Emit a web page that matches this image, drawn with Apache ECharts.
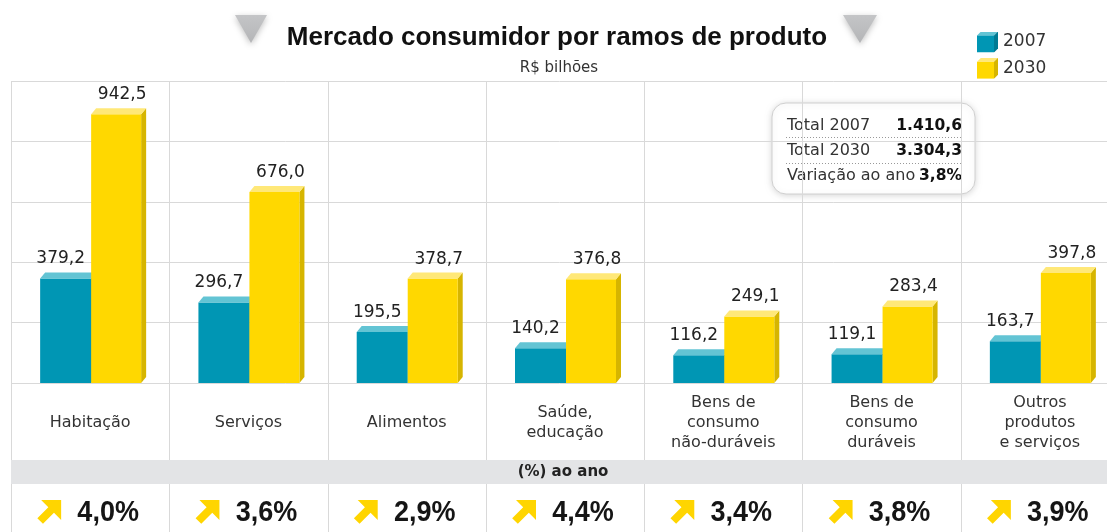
<!DOCTYPE html>
<html>
<head>
<meta charset="utf-8">
<script src="https://cdn.jsdelivr.net/npm/echarts@6/dist/echarts.min.js"></script>
<style>html,body{margin:0;padding:0;background:#fff;}#c{width:1107px;height:532px;}</style>
</head>
<body>
<div id="c"></div>
<script>
const categories = ['Habitação', 'Serviços', 'Alimentos', 'Saúde,\neducação', 'Bens de\nconsumo\nnão-duráveis', 'Bens de\nconsumo\nduráveis', 'Outros\nprodutos\ne serviços'];
const values2007 = [379.2, 296.7, 195.5, 140.2, 116.2, 119.1, 163.7];
const values2030 = [942.5, 676.0, 378.7, 376.8, 249.1, 283.4, 397.8];
const growthPct = [4.0, 3.6, 2.9, 4.4, 3.4, 3.8, 3.9];
const seriesNames = ['2007', '2030'];
const summaryLabels = ['Total 2007', 'Total 2030', 'Variação ao ano'];
const summaryValues = ['1.410,6', '3.304,3', '3,8%'];

const FONT = '"DejaVu Sans", sans-serif';
const fmt = v => v.toFixed(1).replace('.', ',');

const COLORS = {
  '2007': { front: '#0096b4', top: '#63c4d4', side: '#007a93' },
  '2030': { front: '#ffd800', top: '#ffe878', side: '#d6b500' }
};

function cubeIcon(c) {
  const svg = '<svg xmlns="http://www.w3.org/2000/svg" width="21" height="21" viewBox="0 0 21 21">' +
    '<polygon points="0,4 4,0 21,0 17,4" fill="' + c.top + '"/>' +
    '<polygon points="17,4 21,0 21,17 17,21" fill="' + c.side + '"/>' +
    '<rect x="0" y="4" width="17" height="17" fill="' + c.front + '"/></svg>';
  return 'image://data:image/svg+xml;charset=utf-8,' + encodeURIComponent(svg);
}

function barRender(offL, offR, labelShift, col) {
  return function (params, api) {
    const i = api.value(0), v = api.value(1);
    const top = api.coord([i, v]);
    const base = api.coord([i, 0]);
    const cx = base[0];
    const x0 = cx + offL, x1 = cx + offR;
    const dx = 5, dy = 6;
    const yb = base[1], yt = top[1];
    return {
      type: 'group',
      children: [
        { type: 'polygon', shape: { points: [[x1, yt + dy], [x1 + dx, yt], [x1 + dx, yb - dy], [x1, yb]] }, style: { fill: col.side } },
        { type: 'rect', shape: { x: x0, y: yt + dy, width: x1 - x0, height: yb - yt - dy }, style: { fill: col.front } },
        { type: 'polygon', shape: { points: [[x0, yt + dy], [x0 + dx, yt], [x1 + dx, yt], [x1, yt + dy]] }, style: { fill: col.top } },
        { type: 'text', style: { x: (x0 + x1) / 2 + labelShift, y: yt - 5, text: fmt(v), align: 'center', verticalAlign: 'bottom', font: '17px ' + FONT, fill: '#222' } }
      ]
    };
  };
}

const h = 2.83;
const arrowPts = [[23, 0], [3, 0], [13 - h, 10 - h], [2 - h, 21 - h], [2 + h, 21 + h], [13 + h, 10 + h], [23, 20]];

function pctRender(params, api) {
  const i = api.value(0), p = api.value(1);
  const base = api.coord([i, 0]);
  const topY = api.coord([i, 1036])[1];
  const w = api.size([1, 0])[0];
  const cx = base[0];
  const lx = Math.round(cx - w / 2) + 0.5;
  const ax = cx - 52, ay = 500;
  return {
    type: 'group',
    children: [
      { type: 'line', shape: { x1: lx, y1: topY, x2: lx, y2: 460 }, style: { stroke: '#d9d9d9', lineWidth: 1 } },
      { type: 'line', shape: { x1: lx, y1: 484, x2: lx, y2: 532 }, style: { stroke: '#d9d9d9', lineWidth: 1 } },
      { type: 'polygon', shape: { points: arrowPts.map(q => [ax + q[0], ay + q[1]]) }, style: { fill: '#ffd500' } },
      { type: 'text', x: cx + 18, y: 513, scaleY: 1.1, style: { x: 0, y: 0, text: fmt(p) + '%', align: 'center', verticalAlign: 'middle', font: 'bold 27px "Liberation Sans", Arial, sans-serif', fill: '#151515' } }
    ]
  };
}

const chart = echarts.init(document.getElementById('c'), null, { renderer: 'canvas' });

const infoChildren = [
  { type: 'rect', shape: { x: 772, y: 103, width: 203, height: 91, r: 14 }, style: { fill: '#fff', stroke: '#d0d0d0', lineWidth: 1, shadowBlur: 6, shadowColor: 'rgba(0,0,0,0.15)', shadowOffsetY: 1 } },
  { type: 'line', shape: { x1: 786, y1: 137.5, x2: 961, y2: 137.5 }, style: { stroke: '#999', lineDash: [1, 2], lineWidth: 1 } },
  { type: 'line', shape: { x1: 786, y1: 163.5, x2: 961, y2: 163.5 }, style: { stroke: '#999', lineDash: [1, 2], lineWidth: 1 } }
];
const rowY = [126, 151, 176];
summaryLabels.forEach((t, k) => {
  infoChildren.push({ type: 'text', style: { x: 787, y: rowY[k], text: t, align: 'left', verticalAlign: 'middle', font: '16px ' + FONT, fill: '#333' } });
  infoChildren.push({ type: 'text', style: { x: 962, y: rowY[k], text: summaryValues[k], align: 'right', verticalAlign: 'middle', font: 'bold 15.5px ' + FONT, fill: '#111' } });
});

const option = {
  backgroundColor: '#fff',
  animation: false,
  grid: { left: 11, top: 81, width: 1108, height: 302, containLabel: false, outerBoundsMode: 'none' },
  legend: {
    data: seriesNames.map(n => ({ name: n, icon: cubeIcon(COLORS[n]) })),
    orient: 'vertical',
    left: 972,
    top: 26.5,
    itemWidth: 21,
    itemHeight: 21,
    itemGap: 5.3,
    textStyle: { fontSize: 17, color: '#333', fontFamily: FONT },
    selectedMode: false
  },
  xAxis: {
    type: 'category',
    data: categories,
    axisLine: { show: false },
    axisTick: { show: false },
    splitLine: { show: false },
    axisLabel: { margin: 40, verticalAlign: 'middle', lineHeight: 20, fontSize: 16, color: '#333', fontFamily: FONT, interval: 0 }
  },
  yAxis: {
    type: 'value',
    min: 0,
    max: 1036,
    interval: 207.2,
    axisLabel: { show: false },
    axisLine: { show: false },
    axisTick: { show: false },
    splitLine: { lineStyle: { color: '#d9d9d9', width: 1 } }
  },
  graphic: [
    { type: 'polygon', shape: { points: [[235, 15], [267, 15], [251, 43]] }, style: { fill: new echarts.graphic.LinearGradient(0, 0, 0, 1, [{ offset: 0, color: '#c4c5c7' }, { offset: 1, color: '#b4b5b7' }]), shadowBlur: 6, shadowColor: 'rgba(0,0,0,0.25)', shadowOffsetY: 2 } },
    { type: 'polygon', shape: { points: [[843, 15], [877, 15], [860, 43]] }, style: { fill: new echarts.graphic.LinearGradient(0, 0, 0, 1, [{ offset: 0, color: '#c4c5c7' }, { offset: 1, color: '#b4b5b7' }]), shadowBlur: 6, shadowColor: 'rgba(0,0,0,0.25)', shadowOffsetY: 2 } },
    { type: 'text', style: { x: 557, y: 38, text: 'Mercado consumidor por ramos de produto', align: 'center', verticalAlign: 'middle', font: 'bold 26px "Liberation Sans", Arial, sans-serif', fill: '#111' } },
    { type: 'text', style: { x: 559, y: 68, text: 'R$ bilhões', align: 'center', verticalAlign: 'middle', font: '15px ' + FONT, fill: '#333' } },
    { type: 'rect', shape: { x: 11, y: 460, width: 1096, height: 24 }, style: { fill: '#e3e4e6' } },
    { type: 'text', style: { x: 563, y: 472, text: '(%) ao ano', align: 'center', verticalAlign: 'middle', font: 'bold 15px ' + FONT, fill: '#222' } },
    { type: 'group', children: infoChildren, z: 100 }
  ],
  series: [
    {
      name: seriesNames[0], type: 'custom', itemStyle: { color: COLORS['2007'].front },
      data: values2007.map((v, i) => [i, v]), encode: { x: 0, y: 1 },
      renderItem: barRender(-50, 1, -5, COLORS['2007']), z: 2
    },
    {
      name: seriesNames[1], type: 'custom', itemStyle: { color: COLORS['2030'].front },
      data: values2030.map((v, i) => [i, v]), encode: { x: 0, y: 1 },
      renderItem: barRender(1, 51, 6, COLORS['2030']), z: 3
    },
    {
      name: 'pct', type: 'custom', silent: true,
      data: growthPct.map((p, i) => [i, p]), encode: { x: 0, y: 1 },
      renderItem: pctRender, clip: false, z: 1
    }
  ]
};
chart.setOption(option);
</script>
</body>
</html>
